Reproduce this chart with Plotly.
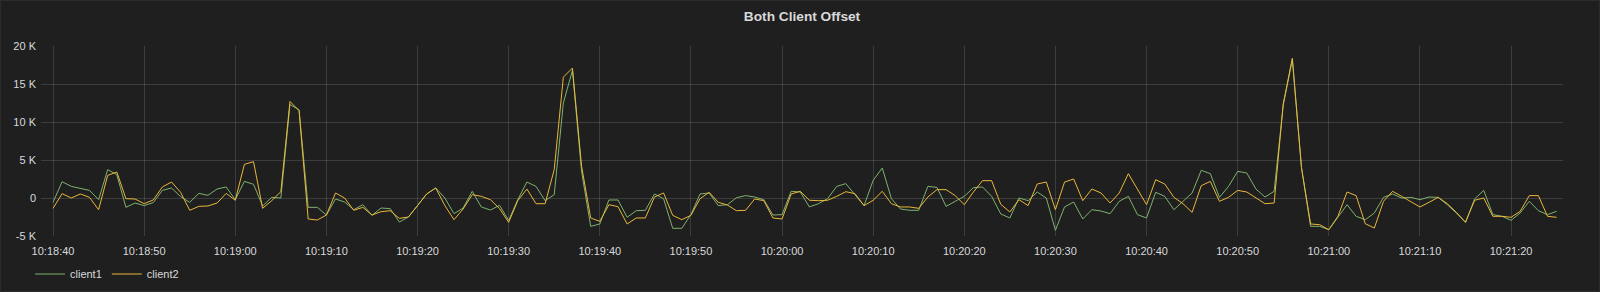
import pandas as pd
import plotly.graph_objects as go

# ---- data (one sample per second) ----
start_time = "2024-01-01 10:18:40"
n_points = 166

client1 = [
    -570, 2150, 1530, 1230, 1000, -220, 3730, 3070, -1230, -660,
    -1000, -610, 1000, 1320, 180, -570, 610, 350, 1180, 1450,
    -220, 2190, 1800, -1050, 90, 0, 12300, 11600, -1230, -1230,
    -2240, -130, -530, -1540, -880, -2280, -1320, -1400, -3160, -2500,
    -1000, 530, 1320, 0, -2060, -1320, 880, -1180, -1580, -960,
    -2940, -220, 2100, 1530, -350, 440, 12500, 16800, 3500, -3730,
    -3420, -260, -260, -2540, -1670, -1620, 530, -90, -3990, -3990,
    -2190, 530, 660, -1000, -880, 40, 310, 130, -220, -2240,
    -2190, 880, 790, -1180, -750, -90, 1530, 1890, 440, -1000,
    2320, 3950, -90, -1450, -1620, -1620, 1530, 1400, -1100, -440,
    220, 1360, 1450, 220, -2100, -2630, 0, -350, 790, 0,
    -4250, -1180, -530, -2760, -1540, -1710, -2060, -440, 220, -2190,
    -2630, 750, 220, -1540, -440, 660, 3640, 3200, 90, 1530,
    3510, 3290, 1180, 130, 880, 12200, 18200, 4000, -3730, -3730,
    -4170, -2500, -880, -2410, -2850, -1970, 90, 530, 0, 90,
    -220, 130, 90, -880, -1970, -3200, -130, 1000, -2190, -2410,
    -2940, -1970, -440, -1670, -2190, -1750,
]

client2 = [
    -1360, 570, 0, 530, 90, -1540, 2980, 3420, -90, -130,
    -750, -260, 1450, 2100, 750, -1620, -1100, -1050, -660, 610,
    -300, 4430, 4780, -1360, -350, 830, 12700, 11500, -2760, -2900,
    -2240, 660, 0, -1620, -1230, -2240, -1800, -1670, -2680, -2500,
    -1000, 530, 1320, -1000, -2850, -1450, 440, 220, -220, -1400,
    -3200, -350, 1180, -750, -750, 3730, 15900, 17100, 4200, -2630,
    -3070, -880, -1140, -3420, -2630, -2630, 130, 660, -2280, -2850,
    -2280, -90, 750, -570, -920, -1670, -1620, -130, -350, -2630,
    -2760, 530, 880, -300, -350, -300, 220, 830, 570, -1000,
    -300, 880, -750, -1180, -1180, -1360, 130, 1100, 1100, 310,
    -880, 790, 2280, 2280, -830, -1840, -220, -1000, 1840, 2100,
    -1540, 2100, 2500, -350, 1180, 660, -660, 660, 3200, 1100,
    -880, 2410, 1840, 90, -750, -1890, 1620, 2190, -440, 90,
    1000, 790, 0, -750, -660, 12400, 18400, 4000, -3420, -3510,
    -4170, -2410, 790, 310, -3380, -3950, -440, 880, 220, -440,
    -1180, -570, 90, -750, -1890, -3200, -300, 0, -2410, -2410,
    -2540, -1750, 310, 310, -2410, -2540,
]

series_names = ["client1", "client2"]
series_colors = ["#7eb26d", "#eab839"]

y_tick_vals = [-5000, 0, 5000, 10000, 15000, 20000]
y_tick_text = ["-5 K", "0", "5 K", "10 K", "15 K", "20 K"]

times = pd.date_range(start=start_time, periods=n_points, freq="1s")

# ---- figure ----
W, H = 1600, 292
ML, MR, MT, MB = 41, 37, 46, 56
PW, PH = W - ML - MR, H - MT - MB

bg = "#1f1f20"
text_col = "#d8d9da"
grid_col = "rgba(255,255,255,0.13)"
font_family = "Liberation Sans, Arial, Helvetica, sans-serif"

fig = go.Figure()
for name, vals, col in zip(series_names, [client1, client2], series_colors):
    fig.add_trace(go.Scatter(
        x=times, y=vals, name=name, mode="lines",
        line=dict(color=col, width=1),
        hoverinfo="x+y+name",
    ))

x_start = pd.Timestamp("2024-01-01 10:18:38.68")
x_end = pd.Timestamp("2024-01-01 10:21:25.70")

fig.update_layout(
    width=W, height=H,
    margin=dict(l=ML, r=MR, t=MT, b=MB, pad=0, autoexpand=False),
    paper_bgcolor=bg, plot_bgcolor=bg,
    font=dict(family=font_family, size=11, color=text_col),
    title=dict(
        text="Both Client Offset",
        x=0.5, xanchor="center", xref="paper",
        y=1 - 16 / H, yanchor="middle", yref="container",
        font=dict(size=13.7, color=text_col, family=font_family, weight="bold"),
    ),
    showlegend=True,
    legend=dict(
        orientation="h",
        x=(30 - ML) / PW, xanchor="left",
        y=(H - MB - 274) / PH, yanchor="middle",
        bgcolor="rgba(0,0,0,0)",
        font=dict(size=11, color=text_col, family=font_family),
        itemwidth=30,
        traceorder="normal",
    ),
    xaxis=dict(
        type="date",
        range=[x_start, x_end],
        tickformat="%H:%M:%S",
        tick0="2024-01-01 10:18:40",
        dtick=10000,
        showgrid=True, gridcolor=grid_col, gridwidth=1,
        zeroline=False, showline=False, ticks="",
        tickfont=dict(size=11, color=text_col),
        ticklabelstandoff=7,
        automargin=False,
        fixedrange=True,
    ),
    yaxis=dict(
        range=[-5000, 20000],
        tickmode="array", tickvals=y_tick_vals, ticktext=y_tick_text,
        showgrid=True, gridcolor=grid_col, gridwidth=1,
        zeroline=False, showline=False, ticks="",
        tickfont=dict(size=11, color=text_col),
        ticklabelstandoff=4,
        automargin=False,
        fixedrange=True,
    ),
    hovermode="x",
)

# subtle panel border
fig.add_shape(
    type="rect", xref="paper", yref="paper",
    x0=(0.5 - ML) / PW, x1=(W - 0.5 - ML) / PW,
    y0=-(MB - 0.5) / PH,
    y1=1 + (MT - 0.5) / PH,
    line=dict(color="#2c2c2e", width=1), fillcolor="rgba(0,0,0,0)",
    layer="below",
)

fig.write_html("out.html")
